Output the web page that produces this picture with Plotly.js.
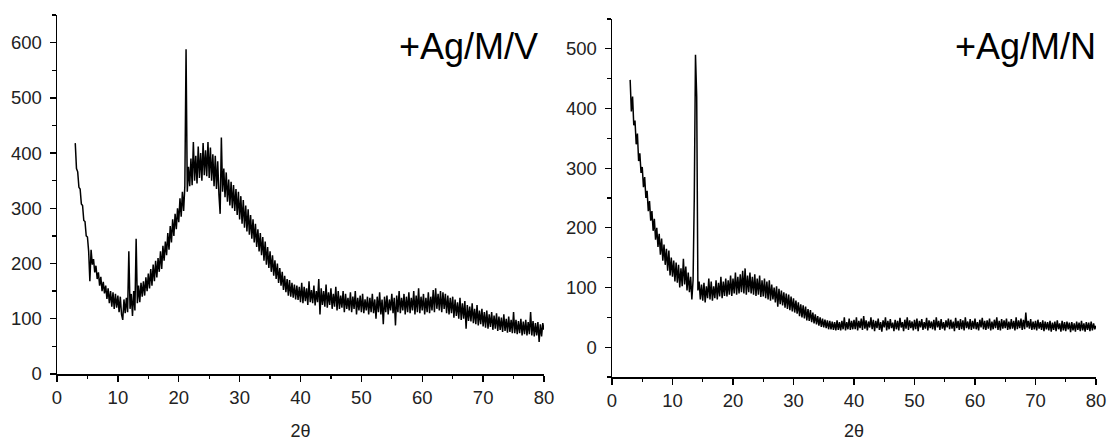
<!DOCTYPE html>
<html>
<head>
<meta charset="utf-8">
<script src="https://cdn.plot.ly/plotly-3.0.1.min.js"></script>
<style>html,body{margin:0;padding:0;background:#fff;}#chart{width:1117px;height:441px;}</style>
</head>
<body>
<div id="chart"></div>
<script>
// 2θ sampling of both scans: start and step (degrees)
const twoThetaStart = 3;
const twoThetaStep = 0.2;

// +Ag/M/V intensities, 2θ = 3 … 80 in 0.2° steps (one row per degree)
const intensityV = [
418,372,366,338,335,
308,305,278,276,250,
248,222,168,225,198,
208,184,196,172,184,
160,176,150,167,146,
160,136,155,128,150,
122,148,118,145,120,
142,112,140,108,98,
135,110,138,112,222,
118,145,105,150,115,
245,128,160,130,165,
140,168,142,175,150,
182,155,190,160,198,
168,205,175,210,185,
222,190,232,205,240,
215,255,225,268,238,
280,250,290,262,300,
275,318,285,330,295,
340,588,330,375,340,
390,342,420,350,395,
345,412,355,400,350,
418,360,405,358,420,
355,410,350,398,340,
395,335,385,325,290,
428,330,372,320,365,
312,352,305,348,300,
342,295,335,288,330,
280,322,272,315,265,
305,258,298,252,288,
245,280,238,272,230,
262,222,255,215,248,
205,240,198,230,192,
222,185,215,178,206,
172,200,165,192,160,
185,152,178,148,172,
142,170,140,165,138,
162,135,160,134,158,
130,165,128,158,132,
155,125,168,130,152,
128,160,124,150,130,
172,108,155,125,150,
122,162,120,148,125,
155,118,145,122,158,
115,150,118,142,120,
150,112,145,118,138,
115,148,112,140,118,
150,108,138,115,142,
112,145,110,135,115,
140,108,138,112,145,
110,135,100,140,112,
148,108,135,90,140,
112,142,108,135,115,
145,110,138,88,142,
112,150,110,138,115,
145,108,140,112,148,
110,138,115,150,108,
142,112,155,110,140,
115,145,108,138,112,
148,110,140,115,152,
112,155,118,145,115,
150,112,148,118,145,
110,142,108,138,110,
140,102,135,105,130,
100,138,98,128,100,
132,82,125,96,122,
95,128,92,118,90,
125,88,115,90,118,
86,112,84,115,82,
108,85,112,80,106,
82,110,78,104,80,
102,76,108,78,100,
75,104,76,98,74,
112,74,98,72,96,
74,100,70,95,72,
98,70,94,72,112,
70,96,68,92,70,
94,58,90,68,92,
80
];

// +Ag/M/N intensities, 2θ = 3 … 80 in 0.2° steps (one row per degree)
const intensityN = [
448,395,420,372,380,
340,358,312,325,292,
302,268,285,250,262,
228,245,212,228,195,
215,180,200,168,190,
155,182,145,172,138,
165,128,162,120,150,
118,145,110,142,108,
138,100,132,102,148,
105,135,95,125,92,
118,80,112,250,490,
420,95,110,80,105,
78,108,75,102,82,
115,80,110,78,102,
82,112,80,108,85,
118,82,110,86,115,
85,112,88,120,86,
115,90,125,88,118,
90,122,92,128,90,
132,88,120,92,125,
90,118,88,122,86,
115,88,120,84,112,
85,115,82,110,80,
112,78,105,80,100,
75,102,68,98,72,
95,70,92,66,90,
64,88,62,85,60,
82,58,78,56,75,
52,72,50,70,48,
68,45,64,44,62,
42,58,40,55,38,
52,36,50,34,48,
33,46,32,45,30,
44,30,43,29,42,
28,45,29,42,28,
44,30,50,28,42,
30,48,29,44,30,
46,30,50,28,44,
32,48,29,52,31,
45,28,43,33,50,
30,46,27,44,32,
48,29,42,26,45,
33,50,28,44,30,
47,32,41,27,46,
30,44,28,49,33,
42,27,46,31,50,
29,45,32,43,28,
46,30,48,27,44,
33,47,29,42,31,
49,28,45,32,43,
30,46,28,50,33,
44,29,47,31,42,
28,45,33,48,30,
46,31,43,27,49,
32,44,29,47,30,
45,28,50,32,43,
30,47,29,44,31,
48,30,42,28,46,
33,49,30,44,29,
45,31,48,28,43,
30,46,32,50,29,
44,28,47,31,45,
32,48,29,43,30,
47,31,44,28,50,
30,45,32,48,29,
46,30,58,33,44,
31,47,29,43,30,
44,28,46,31,42,
29,45,27,43,30,
42,28,44,26,41,
29,43,27,45,30,
40,26,44,28,42,
27,43,30,41,25,
42,28,40,26,43,
29,41,27,44,28,
40,26,42,29,41,
27,43,28,40,30,
36
];

const panelLabels = ["+Ag/M/V", "+Ag/M/N"];
const xTitle = "2θ";

const fontFam = "Liberation Sans, Arial, sans-serif";
const lineStyle = {color: "#000", width: 1.5};

const traces = [
  {type: "scatter", mode: "lines", x0: twoThetaStart, dx: twoThetaStep, y: intensityV,
   line: lineStyle, xaxis: "x", yaxis: "y", showlegend: false, hoverinfo: "skip"},
  {type: "scatter", mode: "lines", x0: twoThetaStart, dx: twoThetaStep, y: intensityN,
   line: lineStyle, xaxis: "x2", yaxis: "y2", showlegend: false, hoverinfo: "skip"}
];

function xAxis(domain, anchor) {
  return {
    domain: domain, anchor: anchor, range: [0, 80], dtick: 10, tick0: 0,
    showgrid: false, zeroline: false, showline: true, linecolor: "#000", linewidth: 1.5,
    ticks: "outside", ticklen: 6, tickwidth: 1.3, tickcolor: "#000",
    minor: {dtick: 5, ticks: "outside", ticklen: 3.5, tickwidth: 1.3, tickcolor: "#000", showgrid: false},
    tickfont: {family: fontFam, size: 18.5, color: "#222"},
    title: {text: xTitle, font: {family: fontFam, size: 18, color: "#222"}, standoff: 20}
  };
}
function yAxis(domain, anchor, range) {
  return {
    domain: domain, anchor: anchor, range: range, dtick: 100, tick0: 0,
    showgrid: false, zeroline: false, showline: true, linecolor: "#000", linewidth: 1.5,
    ticks: "outside", ticklen: 6, tickwidth: 1.3, tickcolor: "#000",
    minor: {dtick: 50, ticks: "outside", ticklen: 3.5, tickwidth: 1.3, tickcolor: "#000", showgrid: false},
    tickfont: {family: fontFam, size: 18.5, color: "#222"},
    ticklabelstandoff: 4
  };
}

const W = 1117, H = 441;
const layout = {
  width: W, height: H,
  margin: {l: 0, r: 0, t: 0, b: 0},
  paper_bgcolor: "#fff", plot_bgcolor: "#fff",
  showlegend: false,
  xaxis: xAxis([57 / W, 544 / W], "y"),
  yaxis: yAxis([(H - 374) / H, (H - 15) / H], "x", [0, 650]),
  xaxis2: xAxis([612 / W, 1096 / W], "y2"),
  yaxis2: yAxis([(H - 377) / H, (H - 19) / H], "x2", [-50, 550]),
  annotations: [
    {text: panelLabels[0], xref: "paper", yref: "paper", x: 540 / W, y: 1 - 47 / H,
     xanchor: "right", yanchor: "middle", showarrow: false,
     font: {family: fontFam, size: 36, color: "#000"}},
    {text: panelLabels[1], xref: "paper", yref: "paper", x: 1098 / W, y: 1 - 47 / H,
     xanchor: "right", yanchor: "middle", showarrow: false,
     font: {family: fontFam, size: 36, color: "#000"}}
  ]
};

Plotly.newPlot("chart", traces, layout, {staticPlot: true, displayModeBar: false});
</script>
</body>
</html>
